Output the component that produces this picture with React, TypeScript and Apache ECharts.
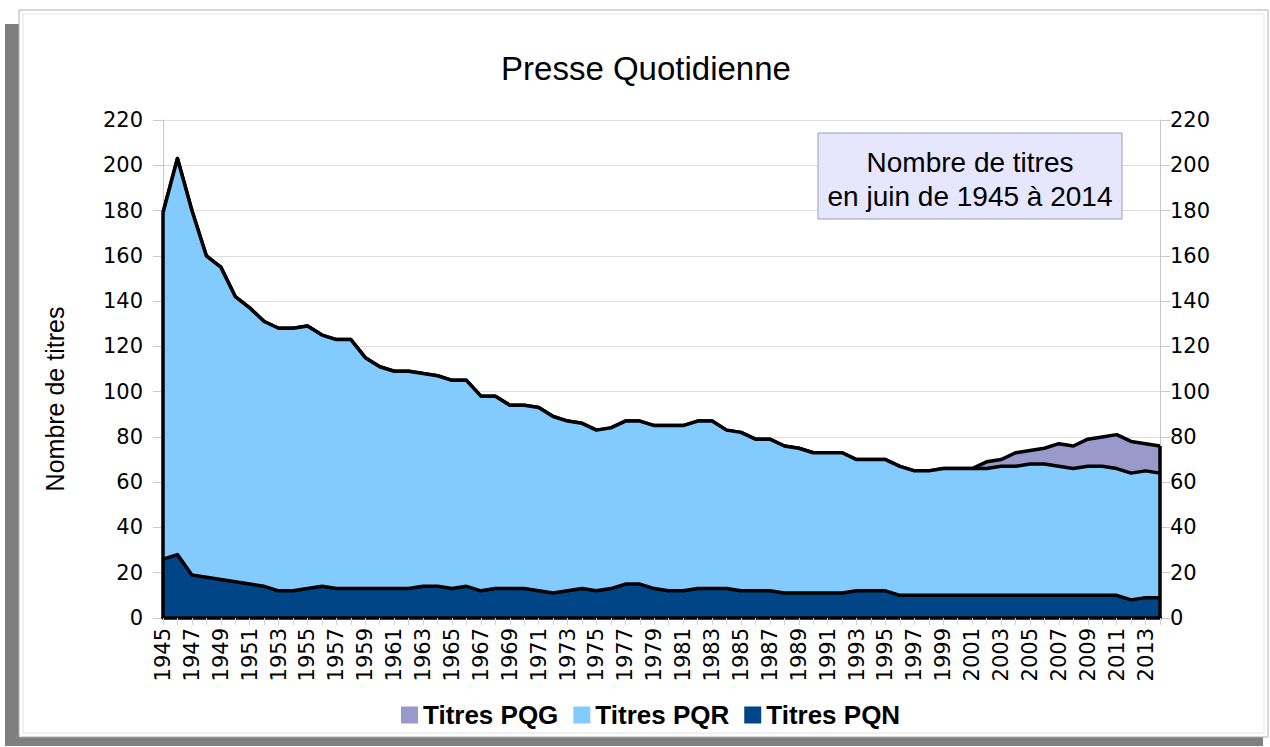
import React, { useEffect, useRef } from "react";
import * as echarts from "echarts";

const YEARS: string[] = [];
for (let y = 1945; y <= 2014; y++) YEARS.push(String(y));

const PQN = [
  26, 28, 19, 18, 17, 16, 15, 14, 12, 12, 13, 14,
  13, 13, 13, 13, 13, 13,
  14, 14, 13, 14,
  12, 13, 13, 13, 12, 11, 12, 13, 12, 13,
  15, 15, 13, 12, 12, 13, 13, 13, 12, 12, 12,
  11, 11, 11, 11, 11,
  12, 12, 12,
  10, 10, 10, 10, 10, 10, 10, 10, 10, 10, 10, 10, 10, 10, 10, 10,
  8, 9, 9,
];

const PQR = [
  153, 175, 161, 142, 138, 126, 122, 117, 116, 116, 116, 111,
  110, 110, 102, 98, 96, 96, 94, 93, 92, 91,
  86, 85, 81, 81, 81, 78, 75, 73, 71, 71,
  72, 72, 72, 73, 73, 74, 74, 70, 70, 67,
  67, 65, 64, 62, 62, 62, 58, 58, 58, 57,
  55, 55, 56, 56, 56, 56, 57, 57, 58, 58,
  57, 56, 57, 57, 56, 56, 56, 55,
];

const PQG = [
  0, 0, 0, 0, 0, 0, 0, 0, 0, 0,
  0, 0, 0, 0, 0, 0, 0, 0, 0, 0,
  0, 0, 0, 0, 0, 0, 0, 0, 0, 0,
  0, 0, 0, 0, 0, 0, 0, 0, 0, 0,
  0, 0, 0, 0, 0, 0, 0, 0, 0, 0,
  0, 0, 0, 0, 0, 0, 0,
  3, 3, 6, 6, 7, 10, 10, 12, 13, 15, 14, 12, 12,
];

const SERIES_NAMES = ["Titres PQN", "Titres PQR", "Titres PQG"];
const LEGEND_ORDER = ["Titres PQG", "Titres PQR", "Titres PQN"];
const COLORS = ["#004586", "#83caff", "#9999cc"];

const Y_MIN = 0;
const Y_MAX = 220;
const Y_STEP = 20;

const TITLE = "Presse Quotidienne";
const Y_NAME = "Nombre de titres";
const NOTE_LINES = ["Nombre de titres", "en juin de 1945 à 2014"];

export default function App() {
  const ref = useRef<HTMLDivElement>(null);

  useEffect(() => {
    if (!ref.current) return;
    const chart = echarts.init(ref.current, undefined, { renderer: "svg" });
    const last = YEARS.length - 1;
    const totalFirst = PQN[0] + PQR[0] + PQG[0];
    const totalLast = PQN[last] + PQR[last] + PQG[last];
    const dataSets = [PQN, PQR, PQG];
    const font = "DejaVu Sans";
    const lib = "Liberation Sans";

    const series: any[] = dataSets.map((d, i) => ({
      name: SERIES_NAMES[i],
      type: "line",
      stack: "total",
      data: d,
      symbol: "none",
      z: 4 - i,
      color: COLORS[i],
      lineStyle: { color: "#000", width: 3.5, join: "round" },
      areaStyle: { color: COLORS[i], opacity: 1 },
      itemStyle: { color: COLORS[i] },
      ...(i === 0
        ? {
            markLine: {
              silent: true,
              symbol: "none",
              z: 10,
              label: { show: false },
              lineStyle: { color: "#000", width: 3.5, type: "solid" },
              data: [
                [{ coord: [YEARS[0], 0] }, { coord: [YEARS[0], totalFirst] }],
                [{ coord: [YEARS[last], 0] }, { coord: [YEARS[last], totalLast] }],
              ],
            },
          }
        : {}),
    }));

    const yAxisCommon = {
      type: "value",
      min: Y_MIN,
      max: Y_MAX,
      interval: Y_STEP,
      axisLine: { show: true, lineStyle: { color: "#c8c8c8", width: 1 } },
      axisTick: { show: true, length: 10, lineStyle: { color: "#c8c8c8" } },
    };

    chart.setOption({
      animation: false,
      backgroundColor: "transparent",
      title: {
        text: TITLE,
        left: 641,
        textAlign: "center",
        top: 47,
        textStyle: { fontFamily: lib, fontSize: 33, fontWeight: "normal", color: "#000" },
      },
      legend: {
        data: LEGEND_ORDER,
        left: 396,
        top: 697,
        icon: "rect",
        itemWidth: 17,
        itemHeight: 17,
        itemGap: 15,
        textStyle: { fontFamily: lib, fontSize: 26, fontWeight: "bold", color: "#000" },
      },
      grid: { left: 163, right: 110, top: 120, bottom: 129, containLabel: false },
      xAxis: {
        type: "category",
        data: YEARS,
        boundaryGap: false,
        z: 10,
        axisLine: { show: true, lineStyle: { color: "#000", width: 3.5 } },
        axisTick: {
          show: true,
          length: 7,
          interval: 0,
          alignWithLabel: true,
          lineStyle: { color: "#d0d0d0" },
        },
        axisLabel: {
          interval: 1,
          rotate: 90,
          margin: 10,
          fontFamily: font,
          fontSize: 21,
          color: "#000",
        },
        splitLine: { show: false },
      },
      yAxis: [
        {
          ...yAxisCommon,
          position: "left",
          axisLabel: { margin: 20, fontFamily: font, fontSize: 21, color: "#000" },
          splitLine: { show: true, lineStyle: { color: "#dddddd", width: 1 } },
        },
        {
          ...yAxisCommon,
          position: "right",
          axisLabel: { margin: 10, fontFamily: font, fontSize: 21, color: "#000" },
          splitLine: { show: false },
        },
      ],
      series,
      graphic: [
        {
          type: "rect",
          z: -30,
          silent: true,
          shape: { x: 5, y: 24, width: 1258, height: 722 },
          style: { fill: "#7f7f7f" },
        },
        {
          type: "rect",
          z: -20,
          silent: true,
          shape: { x: 19, y: 10, width: 1249, height: 727 },
          style: { fill: "#ffffff", stroke: "#b0b0b0", lineWidth: 1 },
        },
        {
          type: "rect",
          z: -15,
          silent: true,
          shape: { x: 23, y: 14, width: 1241, height: 719 },
          style: { fill: "none", stroke: "#e4e4e4", lineWidth: 1 },
        },
        {
          type: "text",
          x: 55,
          y: 399,
          rotation: Math.PI / 2,
          silent: true,
          style: {
            text: Y_NAME,
            fontFamily: lib,
            fontSize: 25,
            fill: "#000",
            align: "center",
            verticalAlign: "middle",
          },
        },
        {
          type: "rect",
          z: 20,
          silent: true,
          shape: { x: 818, y: 133, width: 304, height: 86 },
          style: { fill: "#e6e6ff", stroke: "#9c9cb8", lineWidth: 1 },
        },
        {
          type: "text",
          z: 21,
          x: 970,
          y: 162,
          silent: true,
          style: {
            text: NOTE_LINES[0],
            fontFamily: lib,
            fontSize: 28,
            fill: "#000",
            align: "center",
            verticalAlign: "middle",
          },
        },
        {
          type: "text",
          z: 21,
          x: 970,
          y: 196,
          silent: true,
          style: {
            text: NOTE_LINES[1],
            fontFamily: lib,
            fontSize: 28,
            fill: "#000",
            align: "center",
            verticalAlign: "middle",
          },
        },
      ],
    });

    return () => chart.dispose();
  }, []);

  return (
    <div
      ref={ref}
      style={{ position: "absolute", left: 0, top: 0, width: 1270, height: 747 }}
    />
  );
}
